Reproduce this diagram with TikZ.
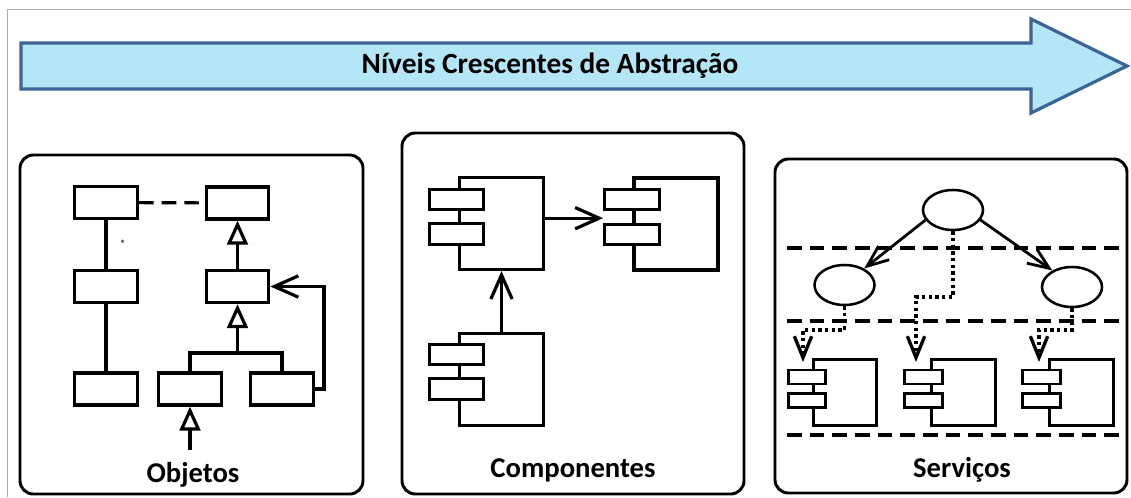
\documentclass[tikz,border=0pt]{standalone}
\usepackage{fontspec}
\setmainfont{Carlito}
\usetikzlibrary{arrows.meta,shapes.geometric,positioning}
\definecolor{arrowfill}{HTML}{B3E6F7}
\definecolor{arrowline}{HTML}{3C6494}

\begin{document}
\begin{tikzpicture}[
	x=0.75pt, y=-0.75pt, line width=2.4pt,
	every node/.style = {inner sep=0pt},
  > = {Straight Barb[length=18pt,width=16pt]},
  panel/.style = {draw, line width=2.2pt, rounded corners=10pt},
  cls/.style = {draw, fill=white, minimum width=47pt, minimum height=24pt},
  inherit/.style = {-{Triangle[open,length=18pt,width=15.5pt]}},
  comp/.style = {draw, fill=white, minimum width=63pt, minimum height=69pt},
  port/.style = {draw, fill=white, minimum width=41pt, minimum height=15.5pt},
  scomp/.style = {comp, minimum width=47.5pt, minimum height=50pt, line width=2.2pt},
  sport/.style = {port, minimum width=28pt, minimum height=10.5pt, line width=2.2pt},
  svc/.style = {draw, ellipse, line width=1.9pt, minimum width=45pt, minimum height=30pt},
  layer/.style = {dash pattern=on 11pt off 6pt},
  call/.style = {line width=2.1pt, -{Straight Barb[length=16pt,width=13pt]}},
  dep/.style = {call, line width=2.5pt, dash pattern=on 2.5pt off 2.5pt},
  heading/.style = {font=\bfseries\fontsize{21.5}{25}\selectfont}
  ]
	\useasboundingbox (0,0) rectangle (1131,497);
	\draw[gray!65, line width=1.1pt] (7.5,497) -- (7.5,9.5) -- (1131,9.5);

	% big arrow
	\draw[fill=arrowfill, draw=arrowline, line width=2.4pt, line join=miter]
		(21,43) -- (1031,43) -- (1031,19) -- (1127,66) -- (1031,113) -- (1031,89) -- (21,89) -- cycle;
	\node[heading, font=\bfseries\fontsize{22}{26}\selectfont] (title) at (550,66) {Níveis Crescentes de Abstração};

	% panels
	\draw[panel] (20,155) rectangle (363,494);
	\draw[panel] (402,133) rectangle (744,494);
	\draw[panel] (775,159) rectangle (1127,493);

	% objetos
	\node[cls] (A) at (106,202.5) {};
	\node[cls] (B) at (106,286.5) {};
	\node[cls] (E) at (106,389) {};
	\node[cls] (C) at (237.5,203) {};
	\node[cls] (D) at (237.5,286.5) {};
	\node[cls] (G) at (190,389) {};
	\node[cls] (F) at (282,389) {};
	\coordinate (j) at (237.5,353);
	\coordinate (gin) at (190,450);

	\draw (A) -- node[right=9pt, font=\small] {*} (B);
	\draw (B) -- (E);
	\draw[layer] (A) -- (C);
	\draw[inherit] (D) -- (C);
	\draw (G.north) |- (j) -| (F.north);
	\draw[inherit] (j) -- (D.south);
	\draw[inherit] (gin) -- (G.south);
	\draw[->] (F.east) -- ++(9,0) |- (D.east);
	\node[heading] (objetos) at (193,475) {Objetos};

	% componentes
	\node[comp] (c1) at (501.5,223.5) {};
	\node[port] (c1a) at (456.5,199.5) {};
	\node[port] (c1b) at (456.5,234) {};
	\node[comp] (c2) at (676,224) {};
	\node[port] (c2a) at (632,199.5) {};
	\node[port] (c2b) at (632,234.5) {};
	\node[comp] (c3) at (501.5,379.5) {};
	\node[port] (c3a) at (456.5,354.5) {};
	\node[port] (c3b) at (456.5,389) {};
	\coordinate (c1out) at ([yshift=4pt]c1.east);

	\draw[->] (c1out) -- (c1out -| c2a.west);
	\draw[->] (c3.north) -- (c1.south);
	\node[heading] (componentes) at (573,470) {Componentes};

	% servicos
	\draw[layer] (787,248) -- (1122,248);
	\draw[layer] (787,321) -- (1122,321);
	\draw[layer] (787,435) -- (1122,435);

	\node[svc] (s0) at (953,210) {};
	\node[svc] (s1) at (844.5,285) {};
	\node[svc] (s2) at (1072,287) {};

	\node[scomp] (S1) at (845,392.5) {};
	\node[sport] (S1a) at (807,377) {};
	\node[sport] (S1b) at (807,400.5) {};
	\node[scomp] (S2) at (963.5,392.5) {};
	\node[sport] (S2a) at (923.5,377) {};
	\node[sport] (S2b) at (923.5,400.5) {};
	\node[scomp] (S3) at (1081.5,392.5) {};
	\node[sport] (S3a) at (1041.5,377) {};
	\node[sport] (S3b) at (1041.5,400.5) {};

	\coordinate (k1) at (803,330);
	\coordinate (t1) at (803,362);
	\coordinate (k2) at (916,297);
	\coordinate (t2) at (916,362);
	\coordinate (k3) at (1039,330);
	\coordinate (t3) at (1039,362);

	\draw[call] (s0.200) -- (s1.40);
	\draw[call] (s0.340) -- (s2.140);
	\draw[dep] (s1.south) |- (k1) -- (t1);
	\draw[dep] (s0.south) |- (k2) -- (t2);
	\draw[dep] (s2.south) |- (k3) -- (t3);
	\node[heading] (servicos) at (962,470) {Serviços};

\end{tikzpicture}
\end{document}
